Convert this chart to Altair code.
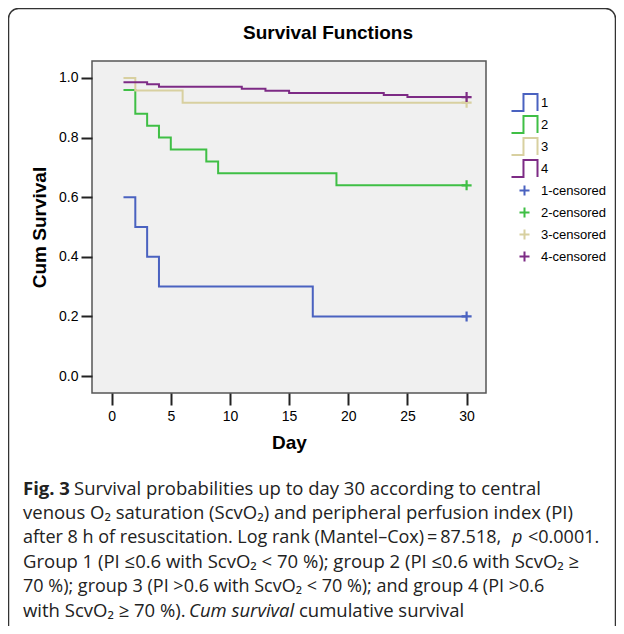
import altair as alt
import pandas as pd

# ---- data ----
groups = ["1", "2", "3", "4"]
g1_days = [1, 2, 3, 4, 17, 30]
g1_surv = [0.60, 0.50, 0.40, 0.30, 0.20, 0.20]
g2_days = [1, 2, 3, 4, 5, 8, 9, 19, 30]
g2_surv = [0.96, 0.88, 0.84, 0.80, 0.76, 0.72, 0.68, 0.64, 0.64]
g3_days = [1, 2, 6, 30]
g3_surv = [1.00, 0.958, 0.917, 0.917]
g4_days = [1, 3, 4, 11, 13, 15, 23, 25, 30]
g4_surv = [0.986, 0.979, 0.971, 0.964, 0.957, 0.950, 0.943, 0.936, 0.936]

censor_labels = ["1-censored", "2-censored", "3-censored", "4-censored"]
censor_days = [30, 30, 30, 30]
censor_surv = [0.20, 0.64, 0.917, 0.936]

legend_order = groups + censor_labels
group_colors = ["#4a62c0", "#3fbf45", "#d8d0a0", "#7d2b85"]
x_ticks = [0, 5, 10, 15, 20, 25, 30]
y_ticks = [0.0, 0.2, 0.4, 0.6, 0.8, 1.0]

rows = []
for g, ds, ss in zip(groups, [g1_days, g2_days, g3_days, g4_days],
                     [g1_surv, g2_surv, g3_surv, g4_surv]):
    for d, s in zip(ds, ss):
        rows.append({"day": d, "surv": s, "group": g})
steps = pd.DataFrame(rows)
cens = pd.DataFrame({"day": censor_days, "surv": censor_surv, "group": censor_labels})

STEP = "M-1.53,1L-0.12,1L-0.12,-1L1.53,-1L1.53,1"
# plus sign; the two zero-length segments only give it the same extent as STEP
PLUS = ("M-1.53,-1L-1.53,-1M1.53,1L1.53,1"
        "M-0.59,0L0.59,0M0,-0.59L0,0.59")

color_scale = alt.Scale(domain=legend_order, range=group_colors + group_colors)
shape_scale = alt.Scale(domain=legend_order, range=[STEP] * 4 + [PLUS] * 4)


def make_legend():
    return alt.Legend(title=None, orient="none", legendX=423, legendY=32,
                      symbolSize=289, symbolStrokeWidth=2,
                      symbolFillColor="transparent",
                      labelFont="Liberation Sans", labelFontSize=13,
                      labelColor="#000", labelOffset=7, rowPadding=-4, padding=0)


x_enc = alt.X("day:Q", scale=alt.Scale(domain=[-1.66, 31.64], nice=False, zero=False),
              axis=alt.Axis(values=x_ticks, title="Day", grid=False, domain=False,
                            tickSize=12, tickWidth=2, tickColor="#222",
                            labelFont="Liberation Sans", labelFontSize=14, labelColor="#000",
                            labelPadding=4, titleFont="Liberation Sans", titleFontSize=19,
                            titleFontWeight="bold", titleColor="#000", titlePadding=10))
y_enc = alt.Y("surv:Q", scale=alt.Scale(domain=[-0.057, 1.057], nice=False, zero=False),
              axis=alt.Axis(values=y_ticks, format=".1f", title="Cum Survival", grid=False,
                            domain=False, tickSize=11, tickWidth=2, tickColor="#222",
                            labelFont="Liberation Sans", labelFontSize=14, labelColor="#000",
                            labelPadding=3, titleFont="Liberation Sans", titleFontSize=19,
                            titleFontWeight="bold", titleColor="#000", titlePadding=9))

lines = alt.Chart(steps).mark_line(interpolate="step-after", strokeWidth=2).encode(
    x=x_enc, y=y_enc,
    color=alt.Color("group:N", scale=color_scale, legend=make_legend()),
    detail="group:N",
)

points = alt.Chart(cens).mark_point(filled=False, size=289, strokeWidth=2.2, opacity=1).encode(
    x="day:Q", y="surv:Q",
    color=alt.Color("group:N", scale=color_scale, legend=make_legend()),
    shape=alt.Shape("group:N", scale=shape_scale, legend=make_legend()),
)

one = pd.DataFrame({"k": [0]})
frame = alt.Chart(one).mark_rect(fill=None, stroke="#333", strokeWidth=1.5,
                                 cornerRadius=10).encode(
    x=alt.value(-83.5), x2=alt.value(523.5), y=alt.value(-52.5), y2=alt.value(600)
)

title = alt.Chart(one).mark_text(
    align="center", baseline="middle", font="Liberation Sans", fontSize=19,
    fontWeight="bold", color="#000"
).encode(x=alt.value(236), y=alt.value(-28), text=alt.value("Survival Functions"))

CAP_FONT = "Open Sans"
cap_y = [428, 452.4, 476.8, 501.2, 525.6, 550]


def cap(text, x, y, weight="normal", style="normal", size=18.5):
    return alt.Chart(one).mark_text(
        align="left", baseline="middle", font=CAP_FONT, fontSize=size,
        fontWeight=weight, fontStyle=style, color="#222"
    ).encode(x=alt.value(x), y=alt.value(y), text=alt.value(text))


caption = [
    cap("Fig. 3", -69, cap_y[0], weight="bold"),
    cap("Survival probabilities up to day 30 according to central", -18, cap_y[0]),
    cap("venous O\u2082 saturation (ScvO\u2082) and peripheral perfusion index (PI)", -69, cap_y[1]),
    cap("after 8 h of resuscitation. Log rank (Mantel\u2013Cox)\u2009=\u200987.518,", -69, cap_y[2], size=18),
    cap("p", 420, cap_y[2], style="italic", size=18),
    cap("<0.0001.", 436, cap_y[2], size=18),
    cap("Group 1 (PI \u22640.6 with ScvO\u2082 < 70 %); group 2 (PI \u22640.6 with ScvO\u2082 \u2265", -69, cap_y[3]),
    cap("70 %); group 3 (PI >0.6 with ScvO\u2082 < 70 %); and group 4 (PI >0.6", -69, cap_y[4], size=18),
    cap("with ScvO\u2082 \u2265 70 %).", -69, cap_y[5]),
    cap("Cum survival", 97, cap_y[5], style="italic"),
    cap("cumulative survival", 207, cap_y[5]),
]

chart = alt.layer(frame, title, lines, points, *caption).properties(
    width=394, height=332,
    autosize=alt.AutoSizeParams(type="none"),
    padding={"left": 84, "top": 53, "right": 130, "bottom": 233},
    background="white",
).configure_view(fill="#f0f0f0", stroke="#555", strokeWidth=1.5)

chart.save("out.html", embed_options={"renderer": "svg", "actions": False})
